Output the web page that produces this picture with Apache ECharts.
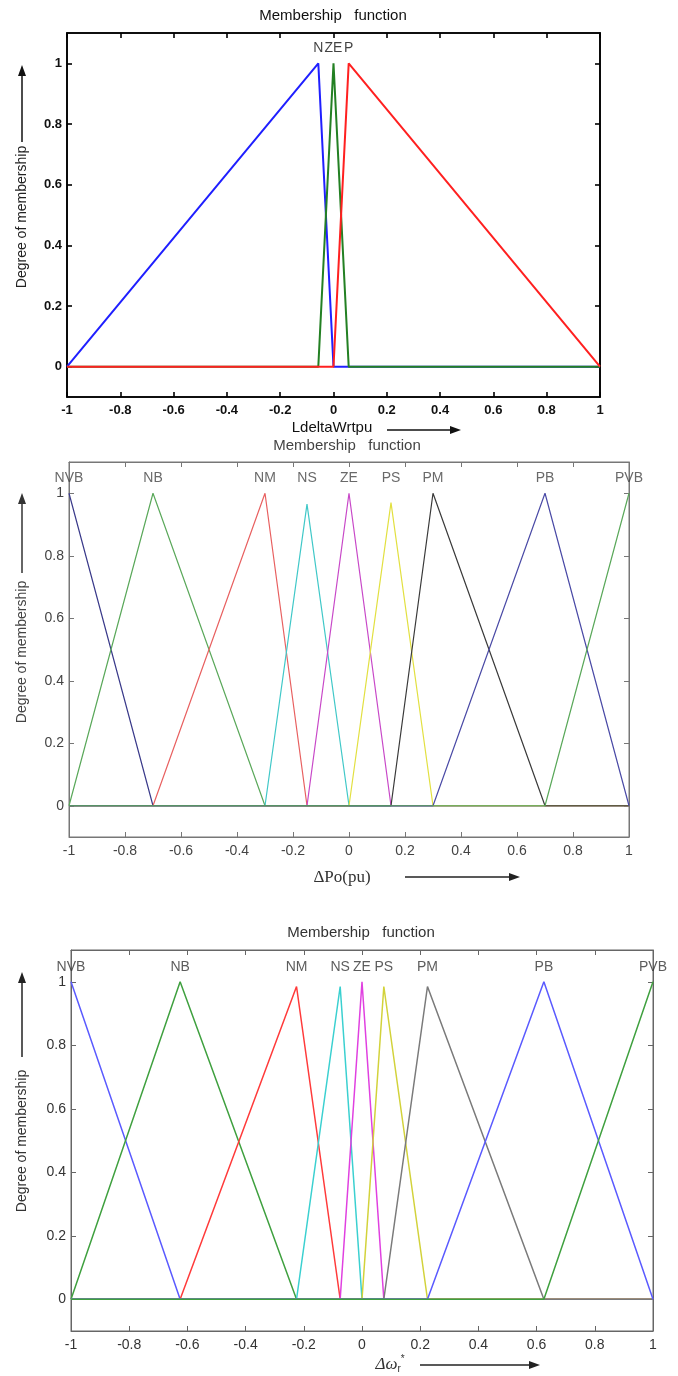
<!DOCTYPE html>
<html>
<head>
<meta charset="utf-8">
<title>Membership functions</title>
<script src="https://cdn.jsdelivr.net/npm/echarts@6/dist/echarts.min.js"></script>
<style>
  html, body { margin: 0; padding: 0; background: #fff; }
  #main { width: 678px; height: 1376px; }
</style>
</head>
<body>
<div id="main"></div>
<script>
// ---- data ----
var yTicks = [0, 0.2, 0.4, 0.6, 0.8, 1];

// top plot: LdeltaWrtpu
var c1Names = ['N', 'ZE', 'P'];
var c1Left = [-1, -0.057, 0];
var c1Peak = [-0.057, 0, 0.057];
var c1Right = [0, 0.057, 1];
var c1Height = [1, 1, 1];

// middle plot: dPo(pu)
var c2Names = ['NVB', 'NB', 'NM', 'NS', 'ZE', 'PS', 'PM', 'PB', 'PVB'];
var c2Left = [-1, -1, -0.7, -0.3, -0.15, 0, 0.15, 0.3, 0.7];
var c2Peak = [-1, -0.7, -0.3, -0.15, 0, 0.15, 0.3, 0.7, 1];
var c2Right = [-0.7, -0.3, -0.15, 0, 0.15, 0.3, 0.7, 1, 1];
var c2Height = [1, 1, 1, 0.965, 1, 0.97, 1, 1, 1];

// bottom plot: d omega_r*
var c3Names = ['NVB', 'NB', 'NM', 'NS', 'ZE', 'PS', 'PM', 'PB', 'PVB'];
var c3Left = [-1, -1, -0.625, -0.225, -0.075, 0, 0.075, 0.225, 0.625];
var c3Peak = [-1, -0.625, -0.225, -0.075, 0, 0.075, 0.225, 0.625, 1];
var c3Right = [-0.625, -0.225, -0.075, 0, 0.075, 0.225, 0.625, 1, 1];
var c3Height = [1, 1, 0.985, 0.985, 1, 0.985, 0.985, 1, 1];

// ---- looks ----
var FONT = '"Liberation Sans", Arial, sans-serif';
var SERIF = '"Liberation Serif", "DejaVu Serif", serif';
var panels = [
  {
    names: c1Names, left: c1Left, peak: c1Peak, right: c1Right, height: c1Height,
    colors: ['#1f1fff', '#238023', '#ff2020'],
    grid: { left: 67, right: 78, top: 33, height: 364 },
    frame: '#000', frameWidth: 1.6, lineWidth: 2, text: '#111', fontSize: 13, labelSize: 14, bold: 'bold'
  },
  {
    names: c2Names, left: c2Left, peak: c2Peak, right: c2Right, height: c2Height,
    colors: ['#3a3a8a', '#5aa85a', '#e86060', '#40c8c8', '#c848c8', '#e2e040', '#3a3a3a', '#4a4aa6', '#5aa85a'],
    grid: { left: 69, right: 49, top: 462, height: 375 },
    frame: '#777', frameWidth: 1, lineWidth: 1.2, text: '#444', fontSize: 14, labelSize: 14, bold: 'normal'
  },
  {
    names: c3Names, left: c3Left, peak: c3Peak, right: c3Right, height: c3Height,
    colors: ['#5a5aff', '#3fa03f', '#ff3a3a', '#3ad0d0', '#e040e0', '#d2d23a', '#7a7a7a', '#5a5aff', '#3fa03f'],
    grid: { left: 71, right: 25, top: 950, height: 381 },
    frame: '#666', frameWidth: 1, lineWidth: 1.5, text: '#333', fontSize: 14, labelSize: 14, bold: 'normal'
  }
];

function triangle(a, b, c, h) {
  var pts = [];
  if (a > -1) pts.push([-1, 0]);
  if (a !== b) pts.push([a, 0]);
  pts.push([b, h]);
  if (c !== b) pts.push([c, 0]);
  if (c < 1) pts.push([1, 0]);
  return pts;
}

var grids = [], xAxes = [], yAxes = [], series = [];

panels.forEach(function (p, i) {
  grids.push({
    left: p.grid.left, right: p.grid.right, top: p.grid.top, height: p.grid.height,
    show: true, borderColor: p.frame, borderWidth: p.frameWidth, backgroundColor: '#fff'
  });
  var lineStyle = { color: p.frame, width: p.frameWidth };
  var labelStyle = { color: p.text, fontSize: p.fontSize, fontFamily: FONT, fontWeight: p.bold };
  xAxes.push({
    type: 'value', gridIndex: i, min: -1, max: 1, interval: 0.2, position: 'bottom',
    axisLine: { show: true, onZero: false, lineStyle: lineStyle },
    axisTick: { show: true, inside: true, length: 5, lineStyle: lineStyle },
    axisLabel: Object.assign({ margin: 7 }, labelStyle),
    splitLine: { show: false }
  });
  xAxes.push({
    type: 'value', gridIndex: i, min: -1, max: 1, interval: 0.2, position: 'top',
    axisLine: { show: true, onZero: false, lineStyle: lineStyle },
    axisTick: { show: true, inside: true, length: 5, lineStyle: lineStyle },
    axisLabel: { show: false },
    splitLine: { show: false }
  });
  yAxes.push({
    type: 'value', gridIndex: i, min: -0.1, max: 1.1, position: 'left',
    axisLine: { show: true, onZero: false, lineStyle: lineStyle },
    axisTick: { show: true, inside: true, length: 5, customValues: yTicks, lineStyle: lineStyle },
    axisLabel: Object.assign({ margin: 5, customValues: yTicks }, labelStyle),
    splitLine: { show: false }
  });
  yAxes.push({
    type: 'value', gridIndex: i, min: -0.1, max: 1.1, position: 'right',
    axisLine: { show: true, onZero: false, lineStyle: lineStyle },
    axisTick: { show: true, inside: true, length: 5, customValues: yTicks, lineStyle: lineStyle },
    axisLabel: { show: false },
    splitLine: { show: false }
  });

  p.names.forEach(function (n, k) {
    series.push({
      name: n, type: 'line', xAxisIndex: 2 * i, yAxisIndex: 2 * i,
      data: triangle(p.left[k], p.peak[k], p.right[k], p.height[k]),
      showSymbol: false, silent: true,
      lineStyle: { color: p.colors[k], width: p.lineWidth }
    });
  });

  // MF names written above the peaks
  series.push({
    type: 'scatter', xAxisIndex: 2 * i, yAxisIndex: 2 * i, symbolSize: 0, silent: true,
    data: p.names.map(function (n, k) { return { name: n, value: [p.peak[k], 1] }; }),
    label: {
      show: true, position: 'top', distance: 8, formatter: '{b}',
      color: p.text, fontSize: p.labelSize, fontFamily: FONT
    }
  });
});

function arrowH(x1, x2, y, color) {
  return [
    { type: 'line', shape: { x1: x1, y1: y, x2: x2 - 6, y2: y }, style: { stroke: color, lineWidth: 1.5 } },
    { type: 'polygon', shape: { points: [[x2, y], [x2 - 11, y - 4], [x2 - 11, y + 4]] }, style: { fill: color } }
  ];
}
function arrowUp(x, y1, y2, color) {
  return [
    { type: 'line', shape: { x1: x, y1: y1 + 6, x2: x, y2: y2 }, style: { stroke: color, lineWidth: 1.5 } },
    { type: 'polygon', shape: { points: [[x, y1], [x - 4, y1 + 11], [x + 4, y1 + 11]] }, style: { fill: color } }
  ];
}
function txt(s, x, y, color, font, extra) {
  return Object.assign({
    type: 'text', x: x, y: y,
    style: { text: s, fill: color, font: font, align: 'center', verticalAlign: 'middle' }
  }, extra || {});
}
function ylabel(x, y, color) {
  return txt('Degree of membership', x, y, color, '14px ' + FONT, { rotation: Math.PI / 2 });
}

var graphics = [].concat(
  // titles
  txt('Membership   function', 333, 16, '#111', '15px ' + FONT),
  txt('Membership   function', 347, 446, '#444', '15px ' + FONT),
  txt('Membership   function', 361, 933, '#333', '15px ' + FONT),
  // y names and arrows
  ylabel(22, 217, '#222'), arrowUp(22, 65, 142, '#111'),
  ylabel(22, 652, '#444'), arrowUp(22, 493, 573, '#333'),
  ylabel(22, 1141, '#333'), arrowUp(22, 972, 1057, '#222'),
  // x names and arrows
  txt('LdeltaWrtpu', 332, 428, '#111', '15px ' + FONT),
  arrowH(387, 461, 430, '#111'),
  txt('ΔPo(pu)', 342, 878, '#333', '17px ' + SERIF),
  arrowH(405, 520, 877, '#222'),
  {
    type: 'text', x: 390, y: 1365,
    style: {
      text: '{a|Δω}{s|r}{p|*}', align: 'center', verticalAlign: 'middle',
      rich: {
        a: { fontSize: 17, fontFamily: SERIF, fontStyle: 'italic', fill: '#333' },
        s: { fontSize: 10, fontFamily: FONT, fill: '#333', padding: [9, 0, 0, 0] },
        p: { fontSize: 10, fontFamily: FONT, fill: '#333', padding: [0, 0, 12, 0] }
      }
    }
  },
  arrowH(420, 540, 1365, '#222')
);

var chart = echarts.init(document.getElementById('main'), null, { renderer: 'canvas' });
chart.setOption({
  animation: false,
  backgroundColor: '#fff',
  grid: grids,
  xAxis: xAxes,
  yAxis: yAxes,
  series: series,
  graphic: graphics
});
</script>
</body>
</html>
